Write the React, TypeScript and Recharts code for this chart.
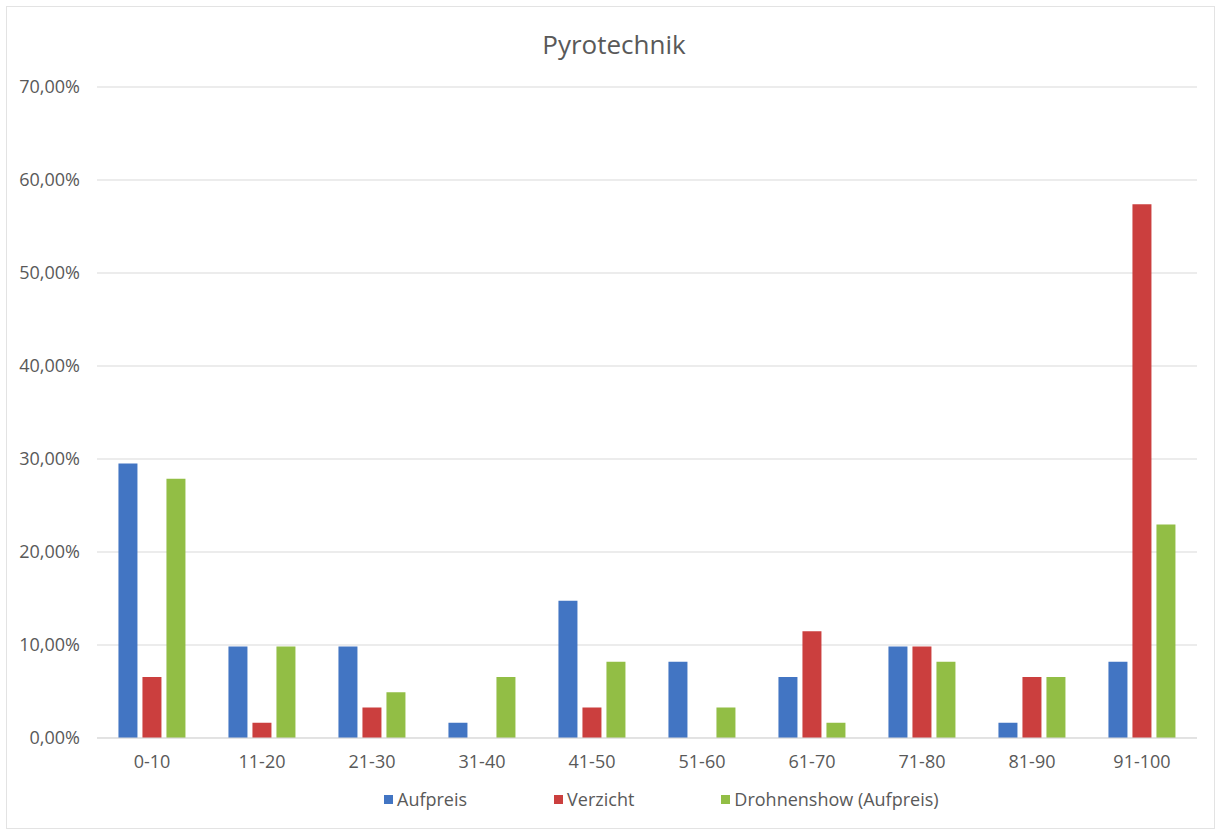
import { BarChart, Bar, XAxis, YAxis, CartesianGrid } from 'recharts';

const categories = ['0-10', '11-20', '21-30', '31-40', '41-50', '51-60', '61-70', '71-80', '81-90', '91-100'];
const aufpreis = [29.51, 9.84, 9.84, 1.64, 14.75, 8.2, 6.56, 9.84, 1.64, 8.2];
const verzicht = [6.56, 1.64, 3.28, 0, 3.28, 0, 11.48, 9.84, 6.56, 57.38];
const drohnenshow = [27.87, 9.84, 4.92, 6.56, 8.2, 3.28, 1.64, 8.2, 6.56, 22.95];
const yTicks = [0, 10, 20, 30, 40, 50, 60, 70];

const series = [
  { key: 'aufpreis', name: 'Aufpreis', color: '#4275C3' },
  { key: 'verzicht', name: 'Verzicht', color: '#CB3F3E' },
  { key: 'drohnenshow', name: 'Drohnenshow (Aufpreis)', color: '#92BE45' },
];

const data = categories.map((label, i) => ({
  label,
  aufpreis: aufpreis[i],
  verzicht: verzicht[i],
  drohnenshow: drohnenshow[i],
}));

const FONT = '"Open Sans", sans-serif';
const TEXT = '#595959';

const fmtPct = (v: number) => v.toFixed(2).replace('.', ',') + '%';

export default function App() {
  return (
    <div style={{ position: 'fixed', left: 0, top: 0, width: 1220, height: 834, background: '#fff' }}>
      <div
        style={{
          position: 'absolute',
          left: 6,
          top: 6,
          width: 1207,
          height: 821,
          border: '1px solid #e3e3e3',
        }}
      />
      <div
        style={{
          position: 'absolute',
          top: 26,
          left: 0,
          width: 1228,
          textAlign: 'center',
          fontFamily: FONT,
          fontSize: 26,
          color: TEXT,
        }}
      >
        Pyrotechnik
      </div>
      <BarChart
        width={1220}
        height={834}
        data={data}
        margin={{ top: 87, right: 23, bottom: 66, left: 0 }}
        barCategoryGap="19.5%"
        barGap={5}
      >
        <CartesianGrid vertical={false} stroke="#d9d9d9" />
        <XAxis
          dataKey="label"
          height={30}
          tickLine={false}
          axisLine={{ stroke: '#d9d9d9' }}
          tick={{ fontFamily: FONT, fontSize: 18, fill: TEXT }}
          tickMargin={11}
        />
        <YAxis
          width={97}
          domain={[0, 70]}
          ticks={yTicks}
          tickFormatter={fmtPct}
          tickLine={false}
          axisLine={false}
          tick={{ fontFamily: FONT, fontSize: 18, fill: TEXT }}
          tickMargin={11}
        />
        {series.map((s) => (
          <Bar key={s.key} dataKey={s.key} name={s.name} fill={s.color} isAnimationActive={false} />
        ))}
      </BarChart>
      {/* legend row under the x axis */}
      <div
        style={{
          position: 'absolute',
          left: 384,
          top: 787,
          display: 'flex',
          gap: 87,
          fontFamily: FONT,
          fontSize: 18,
          color: TEXT,
        }}
      >
        {series.map((s) => (
          <div key={s.key} style={{ display: 'flex', alignItems: 'center', gap: 4 }}>
            <span style={{ width: 9, height: 9, background: s.color, display: 'inline-block' }} />
            <span>{s.name}</span>
          </div>
        ))}
      </div>
    </div>
  );
}
